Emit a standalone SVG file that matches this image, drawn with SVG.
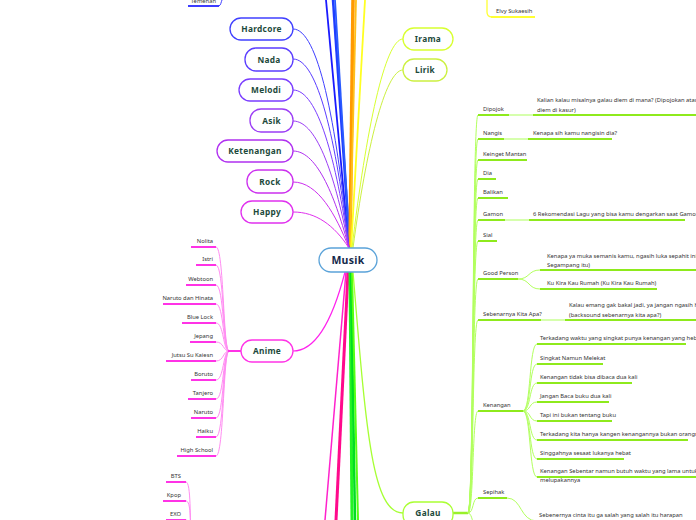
<svg xmlns="http://www.w3.org/2000/svg" width="696" height="520" viewBox="0 0 696 520">
<style>
.node{fill:#fff;stroke-width:1.3}
.nt{font-family:"Noto Sans","Open Sans",sans-serif;font-weight:bold;font-size:8.3px;fill:#1d4a3c;text-anchor:middle;letter-spacing:0.3px}
.lt{font-family:"Noto Sans","Open Sans",sans-serif;font-size:5.8px;fill:#333}
.ltr{font-family:"Noto Sans","Open Sans",sans-serif;font-size:5.8px;fill:#333;text-anchor:end}
.pk{stroke:#ff33e6;stroke-width:2;fill:none}
.pkc{stroke:#ff8cf2;stroke-width:1;fill:none}
.gr{stroke:#8eea1c;stroke-width:2;fill:none}
.grl{stroke:#d6ffad;stroke-width:2;fill:none}
.grc{stroke:#b2ff5e;stroke-width:1;fill:none}
.c{fill:none}
</style>
<rect width="696" height="520" fill="#fff"/>
<g id="connectors">
<path class="c" d="M349,250 L326,0" stroke="#1a1aff" stroke-width="1.8"/>
<path class="c" d="M350,250 L333,0" stroke="#1f3dff" stroke-width="2.5"/>
<path class="c" d="M350,250 L335,0" stroke="#2a5bff" stroke-width="1.8"/>
<path class="c" d="M350,250 L353,0" stroke="#ff9a00" stroke-width="3.5"/>
<path class="c" d="M350,250 L356,0" stroke="#ffbf1a" stroke-width="1.8"/>
<path class="c" d="M351,250 L365,0" stroke="#ffff22" stroke-width="1.8"/>
<path class="c" d="M293,29 C318,29 336,120 349,248" stroke="#4040ff" stroke-width="1"/>
<path class="c" d="M293,59 C318,59 336,140 349,248" stroke="#5a3dff" stroke-width="1"/>
<path class="c" d="M293,90 C318,90 336,160 349,248" stroke="#7a3dff" stroke-width="1"/>
<path class="c" d="M293,121 C318,121 336,180 349,248" stroke="#9b3df5" stroke-width="1"/>
<path class="c" d="M293,151 C318,151 336,200 349,248" stroke="#b030f0" stroke-width="1"/>
<path class="c" d="M293,182 C318,182 336,215 349,248" stroke="#cc30ee" stroke-width="1"/>
<path class="c" d="M293,212 C316,212 334,225 349,248" stroke="#e030ee" stroke-width="1"/>
<path class="c" d="M352,248 C366,130 385,39 403,39" stroke="#d8ff30" stroke-width="1"/>
<path class="c" d="M353,248 C366,150 385,70 403,70" stroke="#ccf040" stroke-width="1"/>
<path class="c" d="M345,272 C330,330 312,351 293,351" stroke="#ff22ee" stroke-width="1.2"/>
<path class="c" d="M346,272 L325,520" stroke="#ff22cc" stroke-width="1.5"/>
<path class="c" d="M348,272 L336,520" stroke="#ff0a8c" stroke-width="3"/>
<path class="c" d="M350,272 L352,520" stroke="#22f522" stroke-width="3"/>
<path class="c" d="M351,272 L355,520" stroke="#00dd22" stroke-width="2.5"/>
<path class="c" d="M352,272 L358,520" stroke="#55ff11" stroke-width="2"/>
<path class="c" d="M353,272 C366,430 372,513 403,513" stroke="#a6ff33" stroke-width="1.3"/>
<path class="c" d="M219,6 C221,5 221,2 222,0" stroke="#3d3dff" stroke-width="1"/>
<line x1="188" y1="6" x2="219" y2="6" stroke="#3d3dff" stroke-width="2"/>
<path class="c" d="M487,0 L487,12 C487,16 489,17 492,17" stroke="#ffff33" stroke-width="1.3"/>
<line x1="491" y1="17" x2="535" y2="17" stroke="#ffff33" stroke-width="2"/>
<path class="pkc" d="M216,247 C224,247 223,351 229,351"/>
<path class="pkc" d="M216,265 C224,265 223,351 229,351"/>
<path class="pkc" d="M216,285 C224,285 223,351 229,351"/>
<path class="pkc" d="M216,304 C224,304 223,351 229,351"/>
<path class="pkc" d="M216,323 C224,323 223,351 229,351"/>
<path class="pkc" d="M216,342 C224,342 223,351 229,351"/>
<path class="pkc" d="M216,361 C224,361 223,351 229,351"/>
<path class="pkc" d="M216,380 C224,380 223,351 229,351"/>
<path class="pkc" d="M216,399 C224,399 223,351 229,351"/>
<path class="pkc" d="M216,418 C224,418 223,351 229,351"/>
<path class="pkc" d="M216,437 C224,437 223,351 229,351"/>
<path class="pkc" d="M216,456 C224,456 223,351 229,351"/>
<line x1="228" y1="351" x2="241" y2="351" stroke="#ff33e6" stroke-width="2"/>
<line class="pk" x1="191" y1="247" x2="216" y2="247"/>
<line class="pk" x1="196" y1="265" x2="216" y2="265"/>
<line class="pk" x1="186" y1="285" x2="216" y2="285"/>
<line class="pk" x1="163" y1="304" x2="216" y2="304"/>
<line class="pk" x1="182" y1="323" x2="216" y2="323"/>
<line class="pk" x1="190" y1="342" x2="216" y2="342"/>
<line class="pk" x1="166" y1="361" x2="216" y2="361"/>
<line class="pk" x1="191" y1="380" x2="216" y2="380"/>
<line class="pk" x1="188" y1="399" x2="216" y2="399"/>
<line class="pk" x1="191" y1="418" x2="216" y2="418"/>
<line class="pk" x1="196" y1="437" x2="216" y2="437"/>
<line class="pk" x1="177" y1="456" x2="216" y2="456"/>
<path class="pkc" d="M186,482 C191,482 190,520 191,540"/>
<path class="pkc" d="M186,501 C191,501 190,520 191,540"/>
<path class="pkc" d="M186,520 C191,520 190,530 191,540"/>
<line class="pk" x1="166" y1="482" x2="186" y2="482"/>
<line class="pk" x1="163" y1="501" x2="186" y2="501"/>
<line class="pk" x1="166" y1="520" x2="186" y2="520"/>
<line x1="453" y1="513" x2="468" y2="513" stroke="#99f02a" stroke-width="2.5"/>
<path class="grc" d="M468,513 C474,513 472,115 478,115"/>
<path class="grc" d="M468,513 C474,513 472,139 478,139"/>
<path class="grc" d="M468,513 C474,513 472,160 478,160"/>
<path class="grc" d="M468,513 C474,513 472,179 478,179"/>
<path class="grc" d="M468,513 C474,513 472,198 478,198"/>
<path class="grc" d="M468,513 C474,513 472,220 478,220"/>
<path class="grc" d="M468,513 C474,513 472,241 478,241"/>
<path class="grc" d="M468,513 C474,513 472,279 478,279"/>
<path class="grc" d="M468,513 C474,513 472,320 478,320"/>
<path class="grc" d="M468,513 C474,513 472,411 478,411"/>
<path class="grc" d="M468,513 C474,513 472,498 478,498"/>
<path class="grc" d="M468,513 C474,513 474,540 478,540"/>
<line class="gr" x1="478" y1="115" x2="509" y2="115"/>
<line class="grl" x1="509" y1="115" x2="533" y2="115"/>
<line class="gr" x1="533" y1="115" x2="696" y2="115"/>
<line class="gr" x1="478" y1="139" x2="504" y2="139"/>
<line class="grl" x1="504" y1="139" x2="528" y2="139"/>
<line class="gr" x1="528" y1="139" x2="612" y2="139"/>
<line class="gr" x1="478" y1="160" x2="527" y2="160"/>
<line class="gr" x1="478" y1="179" x2="496" y2="179"/>
<line class="gr" x1="478" y1="198" x2="508" y2="198"/>
<line class="gr" x1="478" y1="220" x2="505" y2="220"/>
<line class="grl" x1="505" y1="220" x2="529" y2="220"/>
<line class="gr" x1="529" y1="220" x2="685" y2="220"/>
<line class="gr" x1="478" y1="241" x2="497" y2="241"/>
<line class="gr" x1="478" y1="279" x2="518" y2="279"/>
<path class="grc" d="M518,279 C530,279 528,270 540,270"/>
<path class="grc" d="M518,279 C530,279 528,289 540,289"/>
<line class="gr" x1="540" y1="270" x2="696" y2="270"/>
<line class="gr" x1="540" y1="289" x2="657" y2="289"/>
<line class="gr" x1="478" y1="320" x2="541" y2="320"/>
<line class="grl" x1="541" y1="320" x2="565" y2="320"/>
<line class="gr" x1="565" y1="320" x2="696" y2="320"/>
<line class="gr" x1="478" y1="411" x2="511" y2="411"/>
<line class="gr" x1="511" y1="411" x2="523" y2="411" stroke-width="1.5"/>
<path class="grc" d="M523,411 C531,411 529,344 537,344"/>
<path class="grc" d="M523,411 C531,411 529,364 537,364"/>
<path class="grc" d="M523,411 C531,411 529,383 537,383"/>
<path class="grc" d="M523,411 C531,411 529,402 537,402"/>
<path class="grc" d="M523,411 C531,411 529,421 537,421"/>
<path class="grc" d="M523,411 C531,411 529,440 537,440"/>
<path class="grc" d="M523,411 C531,411 529,459 537,459"/>
<path class="grc" d="M523,411 C531,411 529,477 537,477"/>
<line class="gr" x1="537" y1="344" x2="686" y2="344"/>
<line class="gr" x1="537" y1="364" x2="603" y2="364"/>
<line class="gr" x1="537" y1="383" x2="632" y2="383"/>
<line class="gr" x1="537" y1="402" x2="609" y2="402"/>
<line class="gr" x1="537" y1="421" x2="612" y2="421"/>
<line class="gr" x1="537" y1="440" x2="688" y2="440"/>
<line class="gr" x1="537" y1="459" x2="624" y2="459"/>
<line class="gr" x1="537" y1="477" x2="696" y2="477"/>
<line class="gr" x1="478" y1="498" x2="507" y2="498"/>
<path class="grc" d="M507,498 C522,498 520,521 537,521"/>
<line class="gr" x1="537" y1="521" x2="680" y2="521"/>
</g>
<g id="musik"><rect class="node" x="319" y="248" width="58" height="24" rx="12" stroke="#5ba3d9" stroke-width="1.5"/><text x="348" y="264" class="nt" style="font-size:10.5px;fill:#14284a">Musik</text></g>
<g id="hardcore"><rect class="node" x="230" y="18" width="63" height="22" rx="11" stroke="#4040ff"/><text x="261.5" y="32" class="nt">Hardcore</text></g>
<g id="nada"><rect class="node" x="245" y="48" width="48" height="23" rx="11" stroke="#5a3dff"/><text x="269" y="63" class="nt">Nada</text></g>
<g id="melodi"><rect class="node" x="239" y="79" width="54" height="22" rx="11" stroke="#7a3dff"/><text x="266" y="93" class="nt">Melodi</text></g>
<g id="asik"><rect class="node" x="250" y="109" width="43" height="23" rx="11" stroke="#9b3df5"/><text x="271.5" y="124" class="nt">Asik</text></g>
<g id="ketenangan"><rect class="node" x="217" y="140" width="76" height="22" rx="11" stroke="#b030f0"/><text x="255" y="154" class="nt">Ketenangan</text></g>
<g id="rock"><rect class="node" x="247" y="170" width="46" height="23" rx="11" stroke="#cc30ee"/><text x="270" y="185" class="nt">Rock</text></g>
<g id="happy"><rect class="node" x="241" y="201" width="52" height="22" rx="11" stroke="#e030ee"/><text x="267" y="215" class="nt">Happy</text></g>
<g id="anime"><rect class="node" x="241" y="340" width="52" height="22" rx="11" stroke="#ff33e6"/><text x="267" y="354" class="nt">Anime</text></g>
<g id="irama"><rect class="node" x="403" y="28" width="50" height="22" rx="11" stroke="#d8ff30"/><text x="428" y="42" class="nt">Irama</text></g>
<g id="lirik"><rect class="node" x="403" y="59" width="44" height="22" rx="11" stroke="#ccf040"/><text x="425" y="73" class="nt">Lirik</text></g>
<g id="galau"><rect class="node" x="403" y="502" width="50" height="24" rx="11" stroke="#aaff33"/><text x="428" y="516" class="nt">Galau</text></g>
<g id="temenan"><text x="216" y="3" class="ltr">Temenan</text></g>
<g id="elvy"><text x="496" y="13" class="lt">Elvy Sukaesih</text></g>
<g id="anime-leaves">
<text x="213" y="243" class="ltr">Nolita</text>
<text x="213" y="261" class="ltr">Istri</text>
<text x="213" y="281" class="ltr">Webtoon</text>
<text x="213" y="300" class="ltr">Naruto dan Hinata</text>
<text x="213" y="319" class="ltr">Blue Lock</text>
<text x="213" y="338" class="ltr">Jepang</text>
<text x="213" y="357" class="ltr">Jutsu Su Kaiesn</text>
<text x="213" y="376" class="ltr">Boruto</text>
<text x="213" y="395" class="ltr">Tanjero</text>
<text x="213" y="414" class="ltr">Naruto</text>
<text x="213" y="433" class="ltr">Haiku</text>
<text x="213" y="452" class="ltr">High School</text>
</g>
<g id="kpop-leaves">
<text x="181" y="478" class="ltr">BTS</text>
<text x="181" y="497" class="ltr">Kpop</text>
<text x="181" y="516" class="ltr">EXO</text>
</g>
<g id="galau-leaves">
<text x="483" y="111" class="lt">Dipojok</text>
<text x="537" y="102" class="lt">Kalian kalau misalnya galau diem di mana? (Dipojokan atau</text>
<text x="537" y="112" class="lt">diem di kasur)</text>
<text x="483" y="135" class="lt">Nangis</text>
<text x="533" y="135" class="lt">Kenapa sih kamu nangisin dia?</text>
<text x="483" y="156" class="lt">Keinget Mantan</text>
<text x="483" y="175" class="lt">Dia</text>
<text x="483" y="194" class="lt">Balikan</text>
<text x="483" y="216" class="lt">Gamon</text>
<text x="533" y="216" class="lt">6 Rekomendasi Lagu yang bisa kamu dengarkan saat Gamon</text>
<text x="483" y="237" class="lt">Sial</text>
<text x="483" y="275" class="lt">Good Person</text>
<text x="547" y="258" class="lt">Kenapa ya muka semanis kamu, ngasih luka sepahit ini</text>
<text x="547" y="267" class="lt">Segampang itu)</text>
<text x="547" y="285" class="lt">Ku Kira Kau Rumah (Ku Kira Kau Rumah)</text>
<text x="483" y="316" class="lt">Sebenarnya Kita Apa?</text>
<text x="569" y="307" class="lt">Kalau emang gak bakal jadi, ya jangan ngasih harapan</text>
<text x="569" y="317" class="lt">(backsound sebenarnya kita apa?)</text>
<text x="483" y="407" class="lt">Kenangan</text>
<text x="540" y="340" class="lt">Terkadang waktu yang singkat punya kenangan yang hebat</text>
<text x="540" y="360" class="lt">Singkat Namun Melekat</text>
<text x="540" y="379" class="lt">Kenangan tidak bisa dibaca dua kali</text>
<text x="540" y="398" class="lt">Jangan Baca buku dua kali</text>
<text x="540" y="417" class="lt">Tapi ini bukan tentang buku</text>
<text x="540" y="436" class="lt">Terkadang kita hanya kangen kenangannya bukan orangnya</text>
<text x="540" y="455" class="lt">Singgahnya sesaat lukanya hebat</text>
<text x="540" y="473" class="lt">Kenangan Sebentar namun butuh waktu yang lama untuk</text>
<text x="540" y="482" class="lt">melupakannya</text>
<text x="483" y="494" class="lt">Sepihak</text>
<text x="539" y="517" class="lt">Sebenernya cinta itu ga salah yang salah itu harapan</text>
</g>
</svg>
